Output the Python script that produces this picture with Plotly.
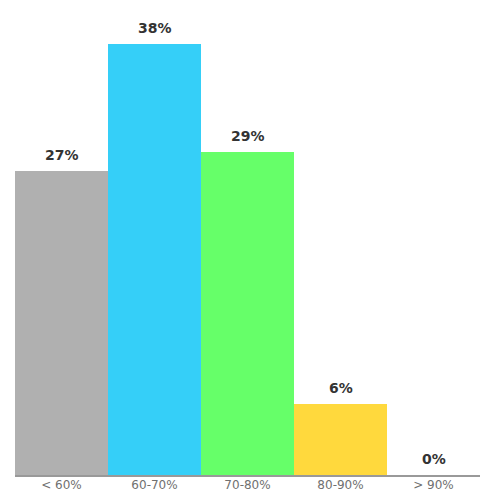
import plotly.graph_objects as go

# score buckets and share of results (%)
categories = ["< 60%", "60-70%", "70-80%", "80-90%", "> 90%"]
shares = [26.9, 38.2, 28.6, 6.3, 0.0]
labels = ["27%", "38%", "29%", "6%", "0%"]
colors = ["#b0b0b0", "#35cff8", "#66ff69", "#ffd93d", "#ffffff"]

fig = go.Figure(
    go.Bar(
        x=categories,
        y=shares,
        marker=dict(color=colors, line=dict(width=0)),
        hoverinfo="skip",
    )
)

for cat, val, lab in zip(categories, shares, labels):
    fig.add_annotation(
        x=cat, y=val, text=f"<b>{lab}</b>",
        showarrow=False, yanchor="bottom", yshift=6,
        font=dict(size=14, color="#333333"),
    )

# page body adds an 8px offset, margins compensate for it
fig.update_layout(
    width=500,
    height=500,
    margin=dict(l=7, r=28, t=36, b=33, autoexpand=False),
    bargap=0,
    plot_bgcolor="white",
    paper_bgcolor="white",
    font=dict(family="DejaVu Sans, sans-serif", size=12, color="#707070"),
    showlegend=False,
    xaxis=dict(
        showline=True, linecolor="#999999", linewidth=1.5,
        ticks="", showgrid=False, fixedrange=True, automargin=False,
        ticklabelstandoff=-2,
    ),
    yaxis=dict(
        range=[0, 38.2], visible=False, showgrid=False, fixedrange=True,
    ),
)

fig.write_html("out.html")
